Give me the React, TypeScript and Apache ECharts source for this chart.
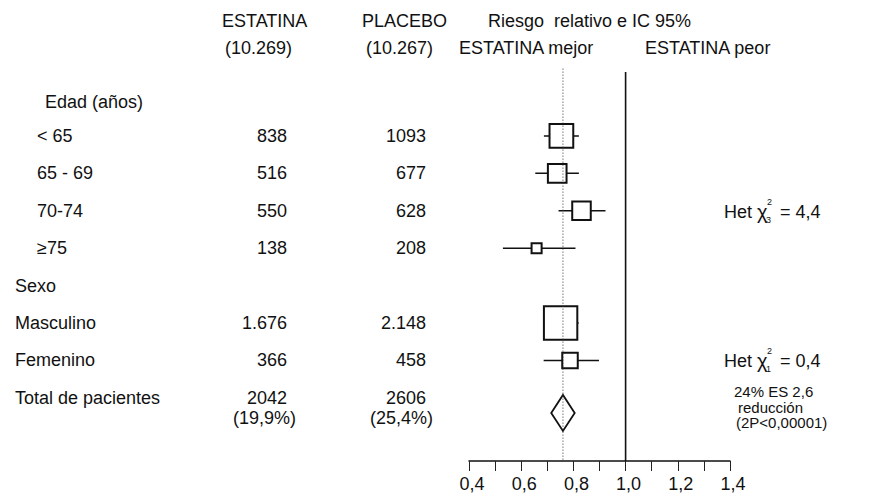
import React, { useEffect, useRef } from "react";
import * as echarts from "echarts";

// ---------- data ----------
const rowLabels = ["Edad (años)", "< 65", "65 - 69", "70-74", "≥75", "Sexo", "Masculino", "Femenino", "Total de pacientes"];
const estatinaText = ["", "838", "516", "550", "138", "", "1.676", "366", "2042"];
const placeboText = ["", "1093", "677", "628", "208", "", "2.148", "458", "2606"];
const estatinaEvents = [0, 838, 516, 550, 138, 0, 1676, 366, 2042];
const placeboEvents = [0, 1093, 677, 628, 208, 0, 2148, 458, 2606];
const totalPct = ["(19,9%)", "(25,4%)"];
const rr = [null, 0.754, 0.738, 0.831, 0.659, null, 0.751, 0.787, 0.76];
const ciLow = [null, 0.687, 0.654, 0.743, 0.53, null, 0.69, 0.686, 0.715];
const ciHigh = [null, 0.821, 0.821, 0.923, 0.808, null, 0.82, 0.898, 0.805];
const isTotal = [false, false, false, false, false, false, false, false, true];
const hetRows = [3, 7];
const hetDf = ["3", "1"];
const hetValue = ["4,4", "0,4"];
const refLines = [1.0, 0.76];
const xTicks = { min: 0.4, max: 1.4, interval: 0.2 };
const summaryLines = ["24% ES 2,6", "reducción", "(2P<0,00001)"];
const headerTop = ["ESTATINA", "PLACEBO", "Riesgo  relativo e IC 95%"];
const headerBottom = ["(10.269)", "(10.267)", "ESTATINA mejor", "ESTATINA peor"];

// ---------- layout ----------
const FONT = '"Liberation Sans", Arial, Helvetica, sans-serif';
const FS = 18;
const rowPos = [0.09, 1, 2, 3, 4, 5, 6, 7, 8.27];
const labelX = [45, 37, 37, 37, 37, 15, 15, 15, 15];

function txt(text: string, x: number, y: number, align = "left", size = FS, vAlign = "middle") {
  return {
    type: "text",
    style: {
      text,
      x,
      y,
      fill: "#111",
      font: `${size}px ${FONT}`,
      align,
      verticalAlign: vAlign,
      textAlign: align,
      textVerticalAlign: vAlign,
    },
  };
}

export default function App() {
  const ref = useRef<HTMLDivElement>(null);
  useEffect(() => {
    if (!ref.current) return;
    document.body.style.margin = "0";
    const chart = echarts.init(ref.current, undefined, { renderer: "svg" });

    const markerData = rr
      .map((v, i) => (v == null ? null : [v, ciLow[i], ciHigh[i], rowPos[i], estatinaEvents[i] + placeboEvents[i], isTotal[i] ? 1 : 0]))
      .filter((d) => d != null);

    const option: any = {
      animation: false,
      backgroundColor: "#fff",
      grid: { left: 469, width: 261, top: 72, height: 389, containLabel: false },
      xAxis: {
        type: "value",
        min: xTicks.min,
        max: xTicks.max,
        interval: xTicks.interval,
        axisLine: { show: true, onZero: false, lineStyle: { color: "#111", width: 1.5 } },
        axisTick: { show: true, inside: false, length: 10, lineStyle: { color: "#222", width: 1 } },
        minorTick: { show: true, splitNumber: 2, length: 10, lineStyle: { color: "#222", width: 1 } },
        splitLine: { show: false },
        minorSplitLine: { show: false },
        axisLabel: {
          color: "#111",
          fontFamily: FONT,
          fontSize: FS,
          margin: 14,
          padding: [0, 0, 0, 6],
          formatter: (v: number) => v.toFixed(1).replace(".", ","),
        },
      },
      yAxis: { type: "value", inverse: true, min: -0.71, max: 9.69, show: false },
      series: [
        {
          type: "custom",
          z: 2,
          data: markerData,
          renderItem: (params: any, api: any) => {
            const v = api.value(0), lo = api.value(1), hi = api.value(2), row = api.value(3), ev = api.value(4), tot = api.value(5);
            const c = api.coord([v, row]);
            const pl = api.coord([lo, row]);
            const ph = api.coord([hi, row]);
            if (tot) {
              const y = c[1] + 5;
              const h = 36;
              return {
                type: "polygon",
                shape: { points: [[pl[0], y], [c[0], y - h / 2], [ph[0], y], [c[0], y + h / 2]] },
                style: { fill: "#fff", stroke: "#111", lineWidth: 1.8 },
              };
            }
            const s = 0.54 * Math.sqrt(ev);
            return {
              type: "group",
              children: [
                { type: "line", shape: { x1: pl[0], y1: c[1], x2: ph[0], y2: c[1] }, style: { stroke: "#111", lineWidth: 1.5 } },
                { type: "rect", shape: { x: c[0] - s / 2, y: c[1] - s / 2, width: s, height: s }, style: { fill: "#fff", stroke: "#111", lineWidth: 2 } },
              ],
            };
          },
        },
        {
          type: "custom",
          z: 3,
          data: refLines.map((v, i) => [v, i]),
          renderItem: (params: any, api: any) => {
            const v = api.value(0);
            const dotted = api.value(1) === 1;
            const top = api.coord([v, dotted ? -0.8 : -0.71]);
            const bot = api.coord([v, 9.69]);
            return {
              type: "line",
              shape: { x1: top[0], y1: top[1], x2: bot[0], y2: bot[1] },
              style: dotted
                ? { stroke: "#333", lineWidth: 1, lineDash: [1, 2] }
                : { stroke: "#111", lineWidth: 1.6 },
            };
          },
        },
        {
          type: "custom",
          z: 4,
          data: rowLabels.map((_, i) => [xTicks.min, rowPos[i]]),
          renderItem: (params: any, api: any) => {
            const i = params.dataIndex;
            const y = api.coord([xTicks.min, api.value(1)])[1];
            const children: any[] = [];
            if (isTotal[i]) {
              children.push(txt(rowLabels[i], labelX[i], y - 10));
              children.push(txt(estatinaText[i], 287, y - 10, "right"));
              children.push(txt(placeboText[i], 426, y - 10, "right"));
              children.push(txt(totalPct[0], 296, y + 10, "right"));
              children.push(txt(totalPct[1], 433, y + 10, "right"));
              summaryLines.forEach((s, k) => children.push(txt(s, k === 0 ? 734 : k === 1 ? 738 : 736, y - 16 + k * 15.5, "left", 15)));
            } else {
              children.push(txt(rowLabels[i], labelX[i], y));
              if (estatinaText[i]) children.push(txt(estatinaText[i], 287, y, "right"));
              if (placeboText[i]) children.push(txt(placeboText[i], 426, y, "right"));
            }
            const h = hetRows.indexOf(i);
            if (h >= 0) {
              children.push(txt("Het", 724, y + 1));
              children.push(txt("χ", 757, y + 1, "left", 20));
              children.push(txt("2", 767, y - 9, "left", 9));
              children.push(txt(hetDf[h], 766, y + 9, "left", 9));
              children.push(txt("= " + hetValue[h], 780, y + 1));
            }
            return { type: "group", children };
          },
        },
      ],
      graphic: [
        txt(headerTop[0], 222, 21),
        txt(headerBottom[0], 225, 48),
        txt(headerTop[1], 362, 21),
        txt(headerBottom[1], 366, 48),
        txt(headerTop[2], 488, 21),
        txt(headerBottom[2], 459, 48),
        txt(headerBottom[3], 645, 48),
      ].map((g) => ({ ...g, z: 10 })),
    };
    chart.setOption(option);
    return () => chart.dispose();
  }, []);
  return <div ref={ref} style={{ position: "absolute", left: 0, top: 0, width: 882, height: 498 }} />;
}
